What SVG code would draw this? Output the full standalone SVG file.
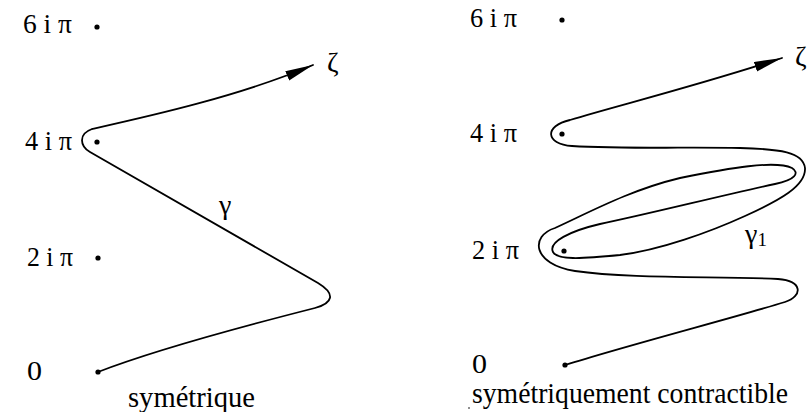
<svg xmlns="http://www.w3.org/2000/svg" width="811" height="412" viewBox="0 0 811 412">
<style>
.lbl{font-family:"Liberation Serif","Times New Roman",serif;font-size:28px;fill:#000}
.cap{font-family:"Liberation Serif","Times New Roman",serif;font-size:29px;fill:#000}
.crv{fill:none;stroke:#000;stroke-width:1.8;stroke-linejoin:round;stroke-linecap:round}
.dot{fill:#000}
</style>
<defs>
<marker id="arr" markerUnits="userSpaceOnUse" markerWidth="30" markerHeight="12" refX="28" refY="5" orient="auto">
<path d="M0,0 L28,5 L0,10 z" fill="#000"/>
</marker>
</defs>
<rect width="811" height="412" fill="#fff"/>

<g id="left-panel">
<g id="L6"><text class="lbl" x="23" y="33" textLength="49" lengthAdjust="spacingAndGlyphs">6 i π</text><circle class="dot" cx="97" cy="27" r="2.6"/></g>
<g id="L4"><text class="lbl" x="25" y="150" textLength="47" lengthAdjust="spacingAndGlyphs">4 i π</text><circle class="dot" cx="97" cy="142" r="2.6"/></g>
<g id="L2"><text class="lbl" x="27" y="266" textLength="46" lengthAdjust="spacingAndGlyphs">2 i π</text><circle class="dot" cx="98" cy="258" r="2.6"/></g>
<g id="L0"><text class="lbl" x="27" y="380" textLength="15" lengthAdjust="spacingAndGlyphs">0</text><circle class="dot" cx="98" cy="372" r="2.6"/></g>
<g id="Lzeta"><text class="lbl" x="327" y="72">ζ</text></g>
<g id="Lgamma"><text class="lbl" x="219" y="214">γ</text></g>
<g id="Lcap"><text class="cap" x="128" y="407" textLength="127" lengthAdjust="spacingAndGlyphs">symétrique</text></g>
</g>

<g id="right-panel">
<g id="R6"><text class="lbl" x="470" y="27" textLength="47" lengthAdjust="spacingAndGlyphs">6 i π</text><circle class="dot" cx="562" cy="20" r="2.6"/></g>
<g id="R4"><text class="lbl" x="470" y="142" textLength="47" lengthAdjust="spacingAndGlyphs">4 i π</text><circle class="dot" cx="562" cy="134" r="2.6"/></g>
<g id="R2"><text class="lbl" x="472" y="259" textLength="47" lengthAdjust="spacingAndGlyphs">2 i π</text><circle class="dot" cx="564" cy="251" r="2.6"/></g>
<g id="R0"><text class="lbl" x="472" y="373" textLength="15" lengthAdjust="spacingAndGlyphs">0</text><circle class="dot" cx="565" cy="365" r="2.6"/></g>
<g id="Rzeta"><text class="lbl" x="795" y="66">ζ</text></g>
<g id="Rgamma1"><text class="lbl" x="745" y="243">γ<tspan font-size="19" dy="3">1</tspan></text></g>
<g id="Rcap"><text class="cap" x="472" y="403" textLength="316" lengthAdjust="spacingAndGlyphs">symétriquement contractible</text><circle class="dot" cx="469" cy="408" r="0.8"/></g>
</g>

<g id="connectors">
<path id="gamma" class="crv" marker-end="url(#arr)" d="M98,372 C160,348 260,322 315,308 C333,303 336,294 318,283 L90,152 C80,146 78,134 92,129 C150,116 240,96 313,65"/>
<path id="gamma-sym" class="crv" marker-end="url(#arr)" d="M565,365 C625,346 740,316 785,302 C803,296 803,281 778,279 C720,276 630,279 575,271 C532,264 530,236 555,228 C590,212 630,190 680,178 C730,168 775,160 792,168 C800,173 795,180 775,184 C720,196 640,216 600,224 C570,231 548,242 553,252 C557,260 580,259 620,255 C660,250 710,232 745,216 C780,200 806,186 805,168 C803,152 780,149 740,148 C690,147 620,149 572,146 C545,144 544,126 570,120 C620,105 700,85 782,58"/>
</g>
</svg>
